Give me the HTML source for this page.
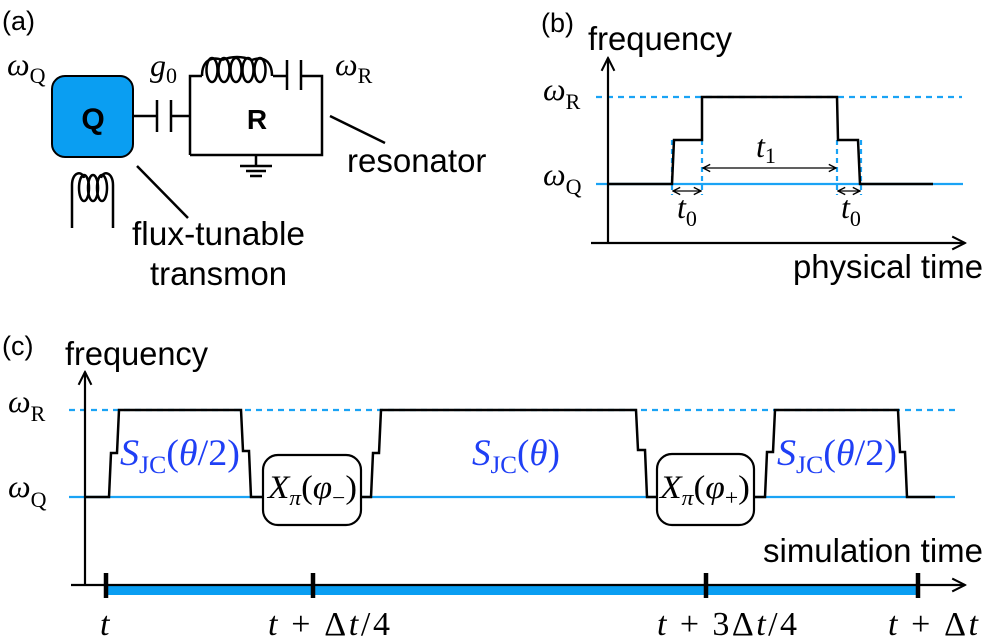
<!DOCTYPE html>
<html><head><meta charset="utf-8"><style>
html,body{margin:0;padding:0;background:#fff}
svg{display:block}
.s{font-family:"Liberation Sans",sans-serif;fill:#000}
.m{font-family:"Liberation Serif",serif;fill:#000}
.b{fill:#1f3ff5}
</style></head><body>
<svg width="987" height="642" viewBox="0 0 987 642" xmlns="http://www.w3.org/2000/svg">
<defs>
<marker id="ar" viewBox="0 0 10 10" refX="9" refY="5" markerWidth="9" markerHeight="9" orient="auto-start-reverse" markerUnits="userSpaceOnUse"><path d="M1,1 L9,5 L1,9" fill="none" stroke="#000" stroke-width="1.6"/></marker>
<marker id="aw" viewBox="0 0 10 10" refX="9" refY="5" markerWidth="16" markerHeight="16" orient="auto" markerUnits="userSpaceOnUse"><path d="M1,1 L9,5 L1,9" fill="none" stroke="#000" stroke-width="1.3"/></marker>
</defs>
<!-- (a) -->
<text x="2" y="30" class="s" font-size="27">(a)</text>
<text x="7" y="75" class="m" font-size="32" font-style="italic">ω<tspan font-style="normal" font-size="22" dy="8">Q</tspan></text>
<rect x="52" y="76" width="81" height="81" rx="13" fill="#0a9ef2" stroke="#000" stroke-width="2"/>
<text x="93" y="129" class="s" font-size="30" font-weight="bold" text-anchor="middle">Q</text>
<g stroke="#000" stroke-width="2.5" fill="none">
<path d="M133,116 H157 M157,100 V132 M171,100 V132 M171,116 H190"/>
<path d="M190,155 V76 H202 M190,155 H322 V76 H301 M301,60 V90 M287,60 V90 M287,76 H273"/>
<path d="M202,76 C202,60 212,56 222,60 M222,60 C232,56 242,56 252,60 C262,56 272,60 272,76" />
<ellipse cx="212" cy="70" rx="5.5" ry="12"/>
<ellipse cx="224" cy="70" rx="5.5" ry="12"/>
<ellipse cx="236" cy="70" rx="5.5" ry="12"/>
<ellipse cx="248" cy="70" rx="5.5" ry="12"/>
<ellipse cx="260" cy="70" rx="5.5" ry="12"/>
<path d="M256,155 V166 M240,166 H272 M246,171 H266 M250,176 H262"/>
<path d="M330,116 L385,143 M137,166 L188,218"/>
<path d="M72,228 V185 C72,172 82,170 84,178 M113,228 V185 C113,172 103,170 101,178"/>
<ellipse cx="84" cy="188" rx="5" ry="13"/>
<ellipse cx="93" cy="188" rx="5" ry="13"/>
<ellipse cx="102" cy="188" rx="5" ry="13"/>
</g>
<text x="257" y="129" class="s" font-size="28" font-weight="bold" text-anchor="middle">R</text>
<text x="150" y="76" class="m" font-size="32" font-style="italic">g<tspan font-style="normal" font-size="22" dy="7">0</tspan></text>
<text x="335" y="75" class="m" font-size="32" font-style="italic">ω<tspan font-style="normal" font-size="22" dy="8">R</tspan></text>
<text x="347" y="172" class="s" font-size="33">resonator</text>
<text x="132" y="245" class="s" font-size="33" textLength="173" lengthAdjust="spacingAndGlyphs">flux-tunable</text>
<text x="150" y="285" class="s" font-size="33" textLength="137" lengthAdjust="spacingAndGlyphs">transmon</text>

<!-- (b) -->
<text x="541" y="32" class="s" font-size="27">(b)</text>
<text x="588" y="50" class="s" font-size="33" textLength="144" lengthAdjust="spacingAndGlyphs">frequency</text>
<text x="543" y="100" class="m" font-size="32" font-style="italic">ω<tspan font-style="normal" font-size="22" dy="9">R</tspan></text>
<text x="543" y="185" class="m" font-size="32" font-style="italic">ω<tspan font-style="normal" font-size="22" dy="9">Q</tspan></text>
<line x1="596" y1="97" x2="962" y2="97" stroke="#1aa3f5" stroke-width="2.2" stroke-dasharray="6,5"/>
<line x1="596" y1="184" x2="963" y2="184" stroke="#1aa3f5" stroke-width="2.2"/>
<g stroke="#1aa3f5" stroke-width="2.2" stroke-dasharray="5,4">
<line x1="672" y1="140" x2="672" y2="195"/><line x1="702" y1="140" x2="702" y2="195"/>
<line x1="837" y1="140" x2="837" y2="195"/><line x1="861" y1="140" x2="861" y2="195"/>
</g>
<line x1="608" y1="243" x2="608" y2="58" stroke="#000" stroke-width="2.2" marker-end="url(#aw)"/>
<line x1="591" y1="243" x2="965" y2="243" stroke="#000" stroke-width="2.2" marker-end="url(#aw)"/>
<path d="M608,184 H672 L674,140 H702 V97 H837 L838,140 H858 L860,184 H933" fill="none" stroke="#000" stroke-width="2.5"/>
<g stroke="#000" stroke-width="1.2">
<line x1="703" y1="168" x2="836" y2="168" marker-start="url(#ar)" marker-end="url(#ar)"/>
<line x1="673" y1="191" x2="701" y2="191" marker-start="url(#ar)" marker-end="url(#ar)"/>
<line x1="838" y1="191" x2="860" y2="191" marker-start="url(#ar)" marker-end="url(#ar)"/>
</g>
<text x="756" y="157" class="m" font-size="32" font-style="italic">t<tspan font-style="normal" font-size="22" dy="6">1</tspan></text>
<text x="677" y="218" class="m" font-size="32" font-style="italic">t<tspan font-style="normal" font-size="22" dy="8">0</tspan></text>
<text x="841" y="218" class="m" font-size="32" font-style="italic">t<tspan font-style="normal" font-size="22" dy="8">0</tspan></text>
<text x="793" y="278" class="s" font-size="33" textLength="190" lengthAdjust="spacingAndGlyphs">physical time</text>

<!-- (c) -->
<text x="2" y="355" class="s" font-size="27">(c)</text>
<text x="65" y="365" class="s" font-size="33" textLength="143" lengthAdjust="spacingAndGlyphs">frequency</text>
<text x="8" y="412" class="m" font-size="32" font-style="italic">ω<tspan font-style="normal" font-size="22" dy="9">R</tspan></text>
<text x="8" y="497" class="m" font-size="32" font-style="italic">ω<tspan font-style="normal" font-size="22" dy="10">Q</tspan></text>
<line x1="69" y1="410" x2="955" y2="410" stroke="#1aa3f5" stroke-width="2.2" stroke-dasharray="6,5"/>
<line x1="69" y1="497" x2="955" y2="497" stroke="#1aa3f5" stroke-width="2.2"/>
<rect x="106" y="586" width="813" height="9" fill="#0a9ef2"/>
<line x1="85" y1="584" x2="85" y2="372" stroke="#000" stroke-width="2.2" marker-end="url(#aw)"/>
<line x1="71" y1="585" x2="965" y2="585" stroke="#000" stroke-width="2.2" marker-end="url(#aw)"/>
<g stroke="#000" stroke-width="4.5">
<line x1="106" y1="573" x2="106" y2="598"/><line x1="313" y1="573" x2="313" y2="598"/>
<line x1="706" y1="573" x2="706" y2="598"/><line x1="918" y1="573" x2="918" y2="598"/>
</g>
<path d="M85,497 H109 L111,453 H117 L119,410 H241 L243,451 H249 L251,497 H263 M361,497 H371 L373,453 H379 L381,410 H636 L638,450 H645 L647,497 H657 M754,497 H765 L767,452 H773 L775,410 H898 L900,452 H905 L907,497 H935" fill="none" stroke="#000" stroke-width="2.5"/>
<rect x="263" y="455" width="98" height="70" rx="15" fill="#fff" stroke="#000" stroke-width="2.2"/>
<rect x="657" y="454" width="97" height="71" rx="15" fill="#fff" stroke="#000" stroke-width="2.2"/>
<text x="268" y="498" class="m" font-size="33" font-style="italic" textLength="89" lengthAdjust="spacingAndGlyphs">X<tspan font-size="22" dy="7">π</tspan><tspan dy="-7" font-style="normal">(</tspan>φ<tspan font-style="normal" font-size="22" dy="7">−</tspan><tspan font-style="normal" dy="-7">)</tspan></text>
<text x="660" y="498" class="m" font-size="33" font-style="italic" textLength="90" lengthAdjust="spacingAndGlyphs">X<tspan font-size="22" dy="7">π</tspan><tspan dy="-7" font-style="normal">(</tspan>φ<tspan font-style="normal" font-size="22" dy="7">+</tspan><tspan font-style="normal" dy="-7">)</tspan></text>
<text x="120" y="465" class="m b" font-size="37" font-style="italic" textLength="120" lengthAdjust="spacingAndGlyphs">S<tspan font-style="normal" font-size="25" dy="8">JC</tspan><tspan font-style="normal" dy="-8">(</tspan>θ<tspan font-style="normal">/2)</tspan></text>
<text x="472" y="465" class="m b" font-size="37" font-style="italic" textLength="88" lengthAdjust="spacingAndGlyphs">S<tspan font-style="normal" font-size="25" dy="8">JC</tspan><tspan font-style="normal" dy="-8">(</tspan>θ<tspan font-style="normal">)</tspan></text>
<text x="777" y="465" class="m b" font-size="37" font-style="italic" textLength="120" lengthAdjust="spacingAndGlyphs">S<tspan font-style="normal" font-size="25" dy="8">JC</tspan><tspan font-style="normal" dy="-8">(</tspan>θ<tspan font-style="normal">/2)</tspan></text>
<text x="763" y="562" class="s" font-size="33" textLength="220" lengthAdjust="spacingAndGlyphs">simulation time</text>
<g class="m" font-size="34">
<text x="100" y="635" font-style="italic">t</text>
<text x="268" y="635" textLength="122" lengthAdjust="spacing"><tspan font-style="italic">t</tspan> + Δ<tspan font-style="italic">t</tspan>/4</text>
<text x="657" y="635" textLength="140" lengthAdjust="spacing"><tspan font-style="italic">t</tspan> + 3Δ<tspan font-style="italic">t</tspan>/4</text>
<text x="888" y="635" textLength="90" lengthAdjust="spacing"><tspan font-style="italic">t</tspan> + Δ<tspan font-style="italic">t</tspan></text>
</g>
</svg>
</body></html>
